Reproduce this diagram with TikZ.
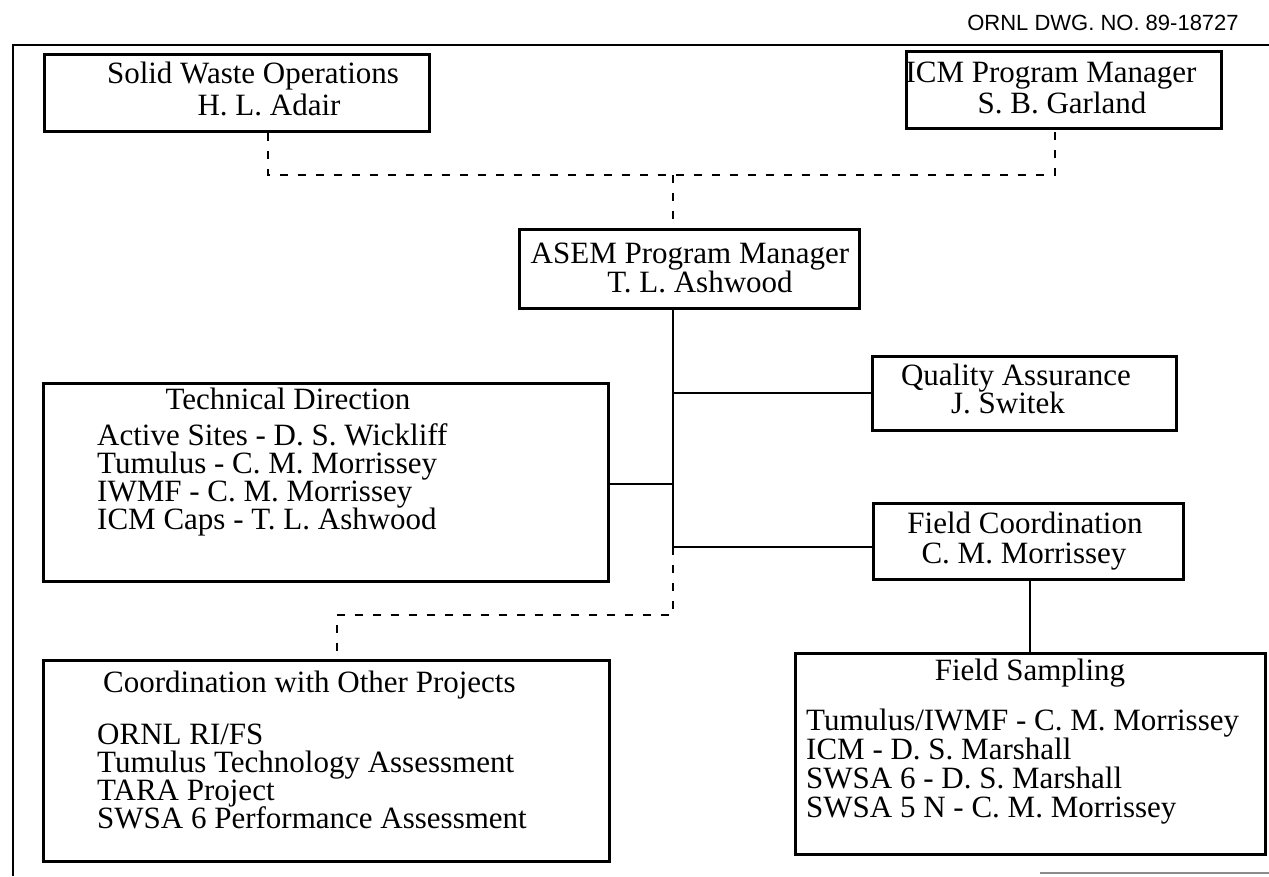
\documentclass[tikz,border=0pt]{standalone}
\usepackage{fontspec}
\setmainfont{Liberation Serif}
\newfontfamily\hdrfont{Liberation Sans}
\begin{document}
\begin{tikzpicture}[x=1pt,y=-1pt,
  box/.style={draw, line width=2.8pt, rectangle, inner sep=0pt, anchor=north west},
  txt/.style={font=\fontsize{31}{31}\selectfont, inner sep=0pt, anchor=base, text height=19pt, text depth=5pt},
  txtl/.style={txt, anchor=base west},
  hdr/.style={font=\hdrfont\fontsize{22}{22}\selectfont, inner sep=0pt, anchor=base},
  link/.style={line width=2.8pt},
  dlink/.style={line width=2.8pt, dash pattern=on 8pt off 10pt},
  frame/.style={line width=2.8pt}]
\useasboundingbox (0,0) rectangle (1269,876);

% frame
\draw[frame] (13,876) -- (13,45) -- (1269,45);
\draw[line width=1.5pt, black!45] (1040,873) -- (1269,873);

% header
\node[hdr] (hdr) at (1103,30) {ORNL DWG. NO. 89-18727};

% boxes
\node[box, minimum width=385pt, minimum height=77pt] (sw) at (43,53) {};
\node[box, minimum width=315pt, minimum height=77pt] (icm) at (905,50) {};
\node[box, minimum width=340pt, minimum height=79pt] (asem) at (518,228) {};
\node[box, minimum width=304pt, minimum height=74pt] (qa) at (871,355) {};
\node[box, minimum width=565pt, minimum height=198pt] (tech) at (42,382) {};
\node[box, minimum width=310pt, minimum height=76pt] (fc) at (872,502) {};
\node[box, minimum width=566pt, minimum height=201pt] (coord) at (42,659) {};
\node[box, minimum width=470pt, minimum height=201pt] (fs) at (794,652) {};

% texts
\node[txt] (sw1) at (253,83) {Solid Waste Operations};
\node[txt] (sw2) at (269,115) {H. L. Adair};
\node[txt] (icm1) at (1051,82) {ICM Program Manager};
\node[txt] (icm2) at (1062,113) {S. B. Garland};
\node[txt] (asem1) at (690,263) {ASEM Program Manager};
\node[txt] (asem2) at (700,292) {T. L. Ashwood};
\node[txt] (qa1) at (1016,385) {Quality Assurance};
\node[txt] (qa2) at (1008,413) {J. Switek};
\node[txt] (fc1) at (1025,533) {Field Coordination};
\node[txt] (fc2) at (1024,563) {C. M. Morrissey};
\node[txt] (tech0) at (288,409) {Technical Direction};
\node[txtl] (tech1) at (97,445) {Active Sites - D. S. Wickliff};
\node[txtl] (tech2) at (97,473) {Tumulus - C. M. Morrissey};
\node[txtl] (tech3) at (97,501) {IWMF - C. M. Morrissey};
\node[txtl] (tech4) at (97,529) {ICM Caps - T. L. Ashwood};
\node[txtl] (co0) at (103,692) {Coordination with Other Projects};
\node[txtl] (co1) at (97,744) {ORNL RI/FS};
\node[txtl] (co2) at (97,772) {Tumulus Technology Assessment};
\node[txtl] (co3) at (97,800) {TARA Project};
\node[txtl] (co4) at (97,828) {SWSA 6 Performance Assessment};
\node[txt] (fs0) at (1030,680) {Field Sampling};
\node[txtl] (fs1) at (806,730) {Tumulus/IWMF - C. M. Morrissey};
\node[txtl] (fs2) at (806,759) {ICM - D. S. Marshall};
\node[txtl] (fs3) at (806,788) {SWSA 6 - D. S. Marshall};
\node[txtl] (fs4) at (806,817) {SWSA 5 N - C. M. Morrissey};

% junction coordinates
\coordinate (d1) at (268,175);
\coordinate (d2) at (1055,175);
\coordinate (d3) at (673,175);
\coordinate (jqa) at (673,393);
\coordinate (jte) at (673,484);
\coordinate (jfc) at (673,547);
\coordinate (d4) at (673,615);
\coordinate (d5) at (337,615);
\coordinate (jfs) at (1030,600);

% dashed connectors
\draw[dlink] (sw.south -| d1) -- (d1) -- (d2) -- (icm.south -| d2);
\draw[dlink] (d3) -- (asem.north -| d3);
\draw[dlink] (jfc) -- (d4) -- (d5) -- (coord.north -| d5);

% solid connectors
\draw[link] (asem.south -| jqa) -- (jfc) -- (fc.west |- jfc);
\draw[link] (jqa) -- (qa.west |- jqa);
\draw[link] (tech.east |- jte) -- (jte);
\draw[link] (fc.south -| jfs) -- (fs.north -| jfs);
\end{tikzpicture}
\end{document}
